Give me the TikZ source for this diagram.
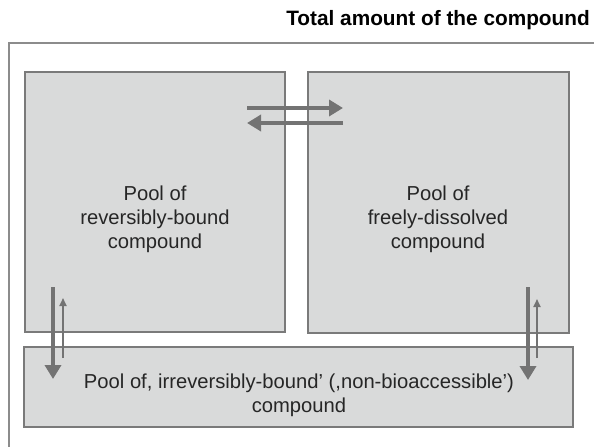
\documentclass[tikz,border=0pt]{standalone}
\usepackage{fontspec}
\setmainfont{Liberation Sans}
\usetikzlibrary{arrows.meta}
\definecolor{boxfill}{HTML}{D9DADA}
\definecolor{boxline}{HTML}{7A7A7A}
\definecolor{outerline}{HTML}{8C8C8C}
\definecolor{arrowgrey}{HTML}{737373}
\begin{document}
\begin{tikzpicture}[x=1pt,y=-1pt,
  pool/.style={draw=boxline,fill=boxfill,line width=2.5pt,inner sep=0pt},
  lbl/.style={align=center,font=\fontsize{20.2pt}{24pt}\selectfont,text=black!85,inner sep=0pt},
  bigarrow/.style={draw=arrowgrey,line width=4.8pt,-{Triangle[length=14pt,width=16pt]}},
  thinarrow/.style={draw=arrowgrey,line width=1.8pt,-{Triangle[length=8pt,width=7pt]}}]
\useasboundingbox (0,0) rectangle (594,447);
\fill[white] (0,0) rectangle (594,447);
% title
\node[anchor=east,font=\bfseries\fontsize{20.8pt}{24pt}\selectfont,inner sep=0pt] (title) at (590,20) {Total amount of the compound};
% outer frame
\coordinate (oTR) at (594,43);
\coordinate (oTL) at (9,43);
\coordinate (oBL) at (9,447);
\draw[outerline,line width=2pt] (oTR) -- (oTL) -- (oBL);
% boxes
\node[pool,minimum width=260pt,minimum height=260pt] (L) at (155,202) {};
\node[pool,minimum width=261pt,minimum height=261pt] (R) at (438.5,202.5) {};
\node[pool,minimum width=549pt,minimum height=80pt] (B) at (298.5,387) {};
% labels
\node[lbl] (Lt) at (155,219) {Pool of\\reversibly-bound\\compound};
\node[lbl] (Rt) at (438,219) {Pool of\\freely-dissolved\\compound};
\node[lbl] (Bt) at (299,395.5) {Pool of, irreversibly-bound’ (,non-bioaccessible’)\\compound};
% horizontal arrows
\coordinate (h1a) at (247,108);
\coordinate (h1b) at (343,108);
\coordinate (h2a) at (343,123);
\coordinate (h2b) at (247,123);
\draw[bigarrow] (h1a) -- (h1b);
\draw[bigarrow] (h2a) -- (h2b);
% left vertical arrows
\coordinate (l1a) at (53,287);
\coordinate (l1b) at (53,379);
\coordinate (l2a) at (63,358);
\coordinate (l2b) at (63,298);
\draw[bigarrow] (l1a) -- (l1b);
\draw[thinarrow] (l2a) -- (l2b);
% right vertical arrows
\coordinate (r1a) at (528,287);
\coordinate (r1b) at (528,380);
\coordinate (r2a) at (537,358);
\coordinate (r2b) at (537,299);
\draw[bigarrow] (r1a) -- (r1b);
\draw[thinarrow] (r2a) -- (r2b);
\end{tikzpicture}
\end{document}
